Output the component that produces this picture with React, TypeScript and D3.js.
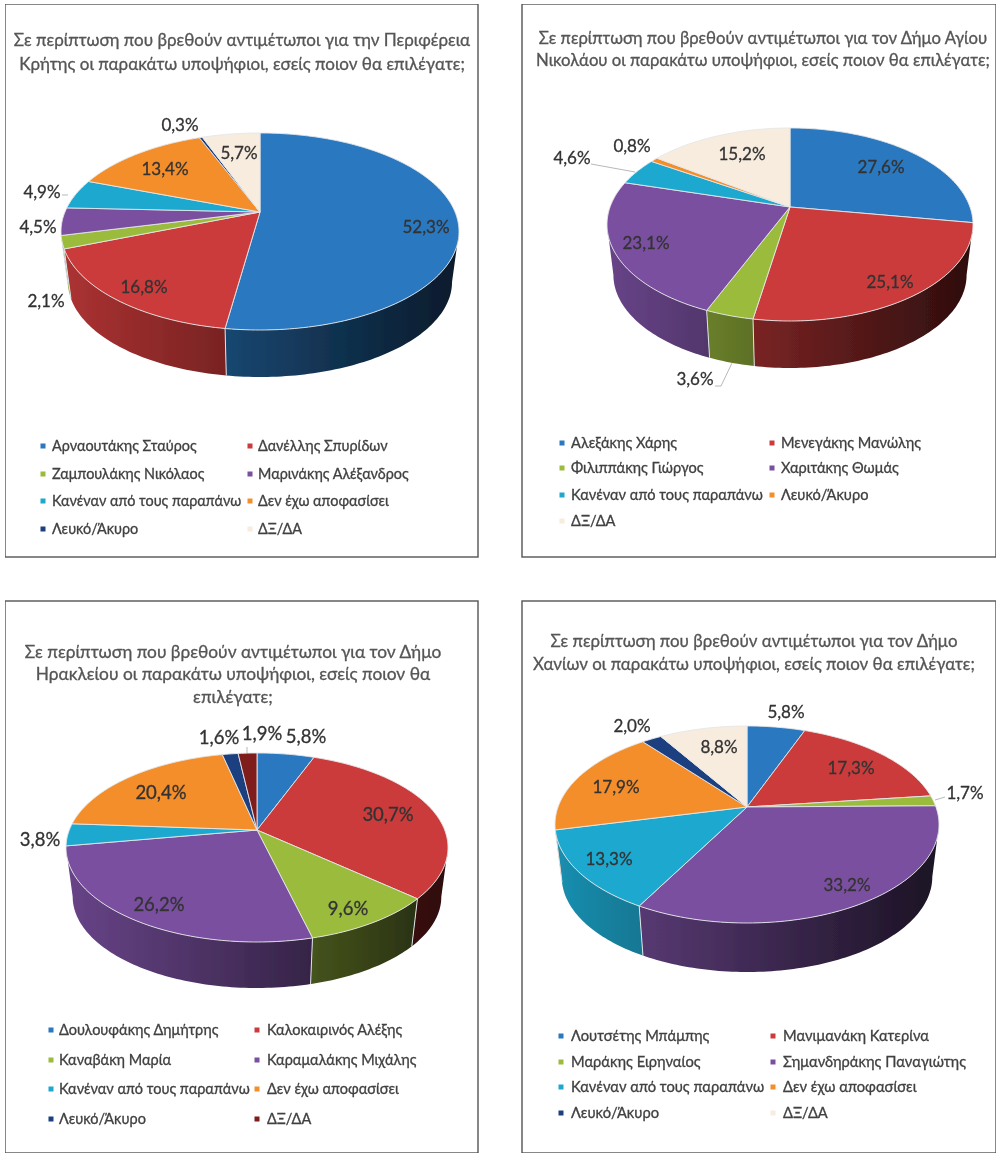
import * as d3 from "d3";

// values per poll, in percent, clockwise from 12 o'clock
const titleKriti = ["Σε περίπτωση που βρεθούν αντιμέτωποι για την Περιφέρεια", "Κρήτης οι παρακάτω υποψήφιοι, εσείς ποιον θα επιλέγατε;"];
const namesKriti = ["Αρναουτάκης Σταύρος", "Δανέλλης Σπυρίδων", "Ζαμπουλάκης Νικόλαος", "Μαρινάκης Αλέξανδρος", "Κανέναν από τους παραπάνω", "Δεν έχω αποφασίσει", "Λευκό/Άκυρο", "ΔΞ/ΔΑ"];
const valuesKriti = [52.3, 16.8, 2.1, 4.5, 4.9, 13.4, 0.3, 5.7];

const titleAgios = ["Σε περίπτωση που βρεθούν αντιμέτωποι για τον Δήμο Αγίου", "Νικολάου οι παρακάτω υποψήφιοι, εσείς ποιον θα επιλέγατε;"];
const namesAgios = ["Αλεξάκης Χάρης", "Μενεγάκης Μανώλης", "Φιλιππάκης Γιώργος", "Χαριτάκης Θωμάς", "Κανέναν από τους παραπάνω", "Λευκό/Άκυρο", "ΔΞ/ΔΑ"];
const valuesAgios = [27.6, 25.1, 3.6, 23.1, 4.6, 0.8, 15.2];

const titleIraklio = ["Σε περίπτωση που βρεθούν αντιμέτωποι για τον Δήμο", "Ηρακλείου οι παρακάτω υποψήφιοι, εσείς ποιον θα", "επιλέγατε;"];
const namesIraklio = ["Δουλουφάκης Δημήτρης", "Καλοκαιρινός Αλέξης", "Καναβάκη Μαρία", "Καραμαλάκης Μιχάλης", "Κανέναν από τους παραπάνω", "Δεν έχω αποφασίσει", "Λευκό/Άκυρο", "ΔΞ/ΔΑ"];
const valuesIraklio = [5.8, 30.7, 9.6, 26.2, 3.8, 20.4, 1.6, 1.9];

const titleChania = ["Σε περίπτωση που βρεθούν αντιμέτωποι για τον Δήμο", "Χανίων οι παρακάτω υποψήφιοι, εσείς ποιον θα επιλέγατε;"];
const namesChania = ["Λουτσέτης Μπάμπης", "Μανιμανάκη Κατερίνα", "Μαράκης Ειρηναίος", "Σημανδηράκης Παναγιώτης", "Κανέναν από τους παραπάνω", "Δεν έχω αποφασίσει", "Λευκό/Άκυρο", "ΔΞ/ΔΑ"];
const valuesChania = [5.8, 17.3, 1.7, 33.2, 13.3, 17.9, 2.0, 8.8];

const BLUE = "#2a78bf";
const RED = "#cc3b3b";
const GREEN = "#9bbb3e";
const PURPLE = "#7a50a0";
const CYAN = "#1ea8cf";
const ORANGE = "#f38e2c";
const NAVY = "#1c3f7f";
const CREAM = "#f8ecdf";
const MAROON = "#7f1a1a";

const coloursKriti = [BLUE, RED, GREEN, PURPLE, CYAN, ORANGE, NAVY, CREAM];
const coloursAgios = [BLUE, RED, GREEN, PURPLE, CYAN, ORANGE, CREAM];
const coloursIraklio = [BLUE, RED, GREEN, PURPLE, CYAN, ORANGE, NAVY, MAROON];
const coloursChania = [BLUE, RED, GREEN, PURPLE, CYAN, ORANGE, NAVY, CREAM];

const FONT = "Lato, 'Open Sans', sans-serif";
const TILT_SHRINK = 0.965; // bottom rim is a bit smaller than the top one

// page layout, everything in pixels of the reference
const panels = [
    {
        id: "kriti", title: titleKriti, names: namesKriti, values: valuesKriti, colours: coloursKriti,
        box: [5, 4, 473, 553], titleX: 242, titleY: [40, 64], titleSize: 17,
        apex: [260, 212], rx: 199, above: 79, below: 118, depth: 47, labelSize: 17,
        labelSpots: [[426, 227], [144, 287], [46, 301], [38, 227], [42, 192], [165, 169], [180, 125], [239, 153]],
        leaders: [[[62, 195], [68, 195]]],
        legendX: [43, 250], legendTextX: [52, 258], legendY: [446, 474, 501, 529], legendSize: 14.4,
    },
    {
        id: "agios", title: titleAgios, names: namesAgios, values: valuesAgios, colours: coloursAgios,
        box: [522, 4, 474, 553], titleX: 763, titleY: [38, 60], titleSize: 16.7,
        apex: [790, 207], rx: 183, above: 79, below: 114, depth: 47, labelSize: 17,
        labelSpots: [[881, 167], [890, 282], [695, 379], [646, 243], [572, 158], [632, 146], [742, 154]],
        leaders: [[[591, 164], [635, 172]], [[715, 386], [721, 386], [732, 363]]],
        legendX: [562, 772], legendTextX: [571, 781], legendY: [443, 468, 495, 521], legendSize: 14.6,
    },
    {
        id: "iraklio", title: titleIraklio, names: namesIraklio, values: valuesIraklio, colours: coloursIraklio,
        box: [5, 601, 473, 552], titleX: 233, titleY: [652, 674, 697], titleSize: 17.3,
        apex: [257, 830], rx: 191, above: 77, below: 112, depth: 46, labelSize: 18.5,
        labelSpots: [[306, 737], [388, 815], [348, 909], [159, 905], [40, 840], [161, 793], [219, 738], [262, 734]],
        leaders: [[[247, 747], [247, 753]]],
        legendX: [51, 257], legendTextX: [59, 267], legendY: [1030, 1060, 1089, 1119], legendSize: 14.5,
    },
    {
        id: "chania", title: titleChania, names: namesChania, values: valuesChania, colours: coloursChania,
        box: [522, 601, 474, 552], titleX: 754, titleY: [641, 664], titleSize: 16.9,
        apex: [747, 807], rx: 192, above: 81, below: 116, depth: 49, labelSize: 17,
        labelSpots: [[786, 712], [851, 768], [965, 793], [847, 885], [609, 859], [616, 787], [632, 726], [719, 747]],
        leaders: [[[935, 800], [945, 797]]],
        legendX: [561, 773], legendTextX: [571, 783], legendY: [1036, 1062, 1087, 1113], legendSize: 14.7,
    },
];

const grLocale = d3.formatLocale({ decimal: ",", thousands: ".", grouping: [3], currency: ["", "€"] });
const fmt = grLocale.format(".1f");

const pieLayout = d3.pie<number>().sort(null).value(d => d);
const pathLine = d3.line();

// darkening of the side wall, from its left end to its right end
const wallShade = d3.scaleLinear().domain([0, 1]).range([0.85, 0.22]);

function shade(colour: string, f: number) {
    const c = d3.rgb(colour);
    return d3.rgb(c.r * f, c.g * f, c.b * f).formatHex();
}

function Pie({ p }: { p: (typeof panels)[number] }) {
    const [ax, ay] = p.apex;
    // tilted disc: the apex is nearer the back rim than the front rim
    const k = (p.above - p.below) / (p.above + p.below);
    const scaleY = p.above * (1 - k);
    const scaleX = p.rx * Math.sqrt(1 - k * k);
    const ellipseY = ay + (p.below - p.above) / 2;
    const ry = (p.above + p.below) / 2;
    const drop = p.depth + ry * (1 - TILT_SHRINK);

    const project = (theta: number): [number, number] => {
        const u = Math.sin(theta);
        const v = -Math.cos(theta);
        const w = 1 + k * v;
        return [ax + scaleX * u / w, ay + scaleY * v / w];
    };
    const sink = ([x, y]: [number, number]): [number, number] => [
        ax + (x - ax) * TILT_SHRINK,
        ellipseY + (y - ellipseY) * TILT_SHRINK + drop,
    ];
    const samples = (a: number, b: number) => {
        const pts = d3.range(a, b, 0.02).map(project);
        pts.push(project(b));
        return pts;
    };

    const arcs = pieLayout(p.values);
    const wallFrom = Math.acos(k); // silhouette of the disc
    const wallTo = 2 * Math.PI - wallFrom;
    const x0 = ax - p.rx;
    const x1 = ax + p.rx;

    return (
        <g>
            <defs>
                {p.colours.map((c, i) => (
                    <linearGradient key={i} id={`wall-${p.id}-${i}`} gradientUnits="userSpaceOnUse" x1={x0} x2={x1} y1={0} y2={0}>
                        {[0, 0.5, 1].map(t => (
                            <stop key={t} offset={t} stopColor={shade(c, wallShade(t))} />
                        ))}
                    </linearGradient>
                ))}
            </defs>
            {arcs.map((a, i) => {
                const from = Math.max(a.startAngle, wallFrom);
                const to = Math.min(a.endAngle, wallTo);
                if (to <= from) return null;
                const rim = samples(from, to);
                const d = pathLine([...rim, ...rim.map(sink).reverse()]) + "Z";
                return <path key={i} d={d} fill={`url(#wall-${p.id}-${i})`} />;
            })}
            {arcs.map((a, i) => {
                if (a.startAngle <= wallFrom || a.startAngle >= wallTo) return null;
                const top = project(a.startAngle);
                return <path key={i} d={pathLine([top, sink(top)]) ?? ""} stroke="#dfe3e6" strokeWidth={1} fill="none" />;
            })}
            {arcs.map((a, i) => {
                const d = pathLine([[ax, ay], ...samples(a.startAngle, a.endAngle)]) + "Z";
                return <path key={i} d={d} fill={p.colours[i]} stroke="#e4e6e8" strokeWidth={0.9} strokeLinejoin="round" />;
            })}
        </g>
    );
}

function Panel({ p }: { p: (typeof panels)[number] }) {
    const [bx, by, bw, bh] = p.box;
    return (
        <g>
            <clipPath id={`box-${p.id}`}>
                <rect x={bx} y={by} width={bw - 5} height={bh} />
            </clipPath>
            <rect x={bx} y={by} width={bw} height={bh} fill="#fff" stroke="#555" strokeWidth={1.4} />
            <g clipPath={`url(#box-${p.id})`}>
                {p.title.map((line, i) => (
                    <text key={i} x={p.titleX} y={p.titleY[i]} dy="0.35em" textAnchor="middle" fontSize={p.titleSize} fill="#555" stroke="#555" strokeWidth={0.3} fontFamily={FONT}>
                        {line}
                    </text>
                ))}
            </g>
            <Pie p={p} />
            {p.leaders.map((pts, i) => (
                <path key={i} d={pathLine(pts as [number, number][]) ?? ""} fill="none" stroke="#a6a6a6" strokeWidth={0.8} />
            ))}
            {p.values.map((v, i) => (
                <text key={i} x={p.labelSpots[i][0]} y={p.labelSpots[i][1]} dy="0.35em" textAnchor="middle" fontSize={p.labelSize} fill="#333" stroke="#333" strokeWidth={0.3} fontFamily={FONT}>
                    {fmt(v)}%
                </text>
            ))}
            {p.names.map((name, i) => {
                const col = i % 2;
                const row = Math.floor(i / 2);
                return (
                    <g key={i}>
                        <rect x={p.legendX[col] - 2.5} y={p.legendY[row] - 2.5} width={5} height={5} fill={p.colours[i]} />
                        <text x={p.legendTextX[col]} y={p.legendY[row]} dy="0.35em" fontSize={p.legendSize} fill="#404040" stroke="#404040" strokeWidth={0.3} fontFamily={FONT}>
                            {name}
                        </text>
                    </g>
                );
            })}
        </g>
    );
}

export default function App() {
    return (
        <svg width={1000} height={1158} style={{ position: "absolute", left: 0, top: 0 }}>
            <defs>
                {/* the source is a soft scan, take the edge off everything */}
                <filter id="soft" x="0" y="0" width="100%" height="100%" filterUnits="objectBoundingBox">
                    <feGaussianBlur stdDeviation={0.45} />
                </filter>
            </defs>
            <rect width={1000} height={1158} fill="#fff" />
            <g filter="url(#soft)">
                {panels.map(p => (
                    <Panel key={p.id} p={p} />
                ))}
            </g>
        </svg>
    );
}
